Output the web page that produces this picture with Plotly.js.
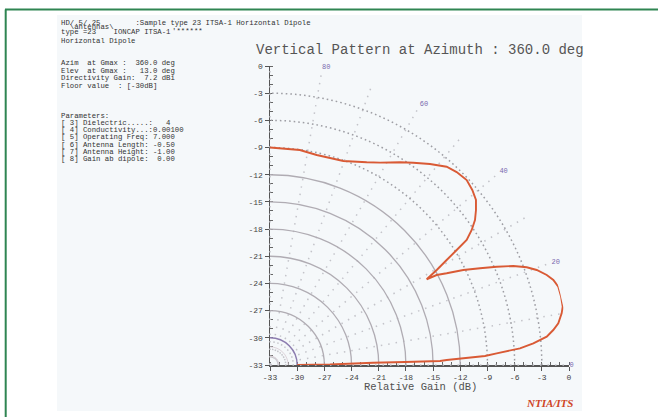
<!DOCTYPE html>
<html><head><meta charset="utf-8">
<script src="https://cdn.plot.ly/plotly-3.0.1.min.js"></script>
<style>html,body{margin:0;padding:0;background:#fff;}#chart{width:658px;height:417px;}</style>
</head><body><div id="chart"></div>
<script>
// ---- data (path order along the pattern) ----
const elevationDeg = [0, 0.48, 1.28, 1.27, 1.35, 1.62, 2.40, 2.95, 3.82, 4.71, 5.84, 7.04, 8.23, 10.05, 11.26, 13.18, 15.19, 16.70, 18.02, 19.61, 20.84, 22.14, 23.44, 24.73, 26.17, 27.43, 28.37, 28.68, 29.68, 30.72, 31.63, 32.44, 33.80, 35.27, 36.96, 38.70, 40.86, 43.24, 45.95, 48.30, 51.48, 54.70, 57.32, 61.46, 64.5, 70.23, 77.46, 82.1, 90];
const gainDb      = [-30, -26.38, -21.63, -18.1, -14.23, -13.49, -9.25, -7.95, -5.35, -3.84, -2.30, -1.50, -0.85, -0.31, -0.06, 0, -0.03, -0.35, -0.88, -1.75, -2.68, -4.01, -5.73, -7.48, -9.23, -11.03, -12.1, -13.29, -11.82, -10.32, -8.80, -7.28, -6.21, -5.29, -4.55, -3.87, -3.48, -3.20, -3.37, -3.69, -4.65, -5.64, -6.42, -7.58, -8.21, -9.07, -9.26, -9.04, -9.0];
const gainTicks  = [-33, -30, -27, -24, -21, -18, -15, -12, -9, -6, -3, 0];
const gainLabels = ['-33', '-30', '-27', '-24', '-21', '-18', '-15', '-12', '-9', '-6', '-3', '0'];
const elevLabelVals = [0, 20, 40, 60, 80];
const elevLabelText = ['0', '20', '40', '60', '80'];
const dottedRings = [-9, -6, -3, 0];
const solidRings  = [-27, -24, -21, -18, -15, -12];
const accentRings = [-30];
const faintRings  = [-32, -31];
const headerLines = ['HD/.5/.25        :Sample type 23 ITSA-1 Horizontal Dipole', '  \\antennas\\', 'type =23    IONCAP ITSA-1', 'Horizontal Dipole'];
const summaryLines = ['Azim  at Gmax :  360.0 deg', 'Elev  at Gmax :   13.0 deg', 'Directivity Gain:  7.2 dBi', 'Floor value  : [-30dB]'];
const paramLines = ['Parameters:', '[ 3] Dielectric.....:   4', '[ 4] Conductivity...:0.00100', '[ 5] Operating Freq: 7.000', '[ 6] Antenna Length: -0.50', '[ 7] Antenna Height: -1.00', '[ 8] Gain ab dipole:  0.00'];
const chartTitle = 'Vertical Pattern at Azimuth : 360.0 deg';
const axisTitle = 'Relative Gain (dB)';
const credit = 'NTIA/ITS';

// ---- layout helpers ----
const W = 658, H = 417;
const px = x => x / W;
const py = y => 1 - y / H;
const dom = {x: [px(270), px(569)], y: [py(365), py(66)]};
const mono = 'Liberation Mono, Courier New, monospace';

function polar(radial, angular) {
  return {
    domain: dom, sector: [0, 90], bgcolor: 'rgba(0,0,0,0)',
    radialaxis: Object.assign({range: [-33, 0], showline: false, ticks: '', showticklabels: false, tickmode: 'array', showgrid: true}, radial),
    angularaxis: Object.assign({rotation: 0, direction: 'counterclockwise', showline: false, ticks: '', showticklabels: false, showgrid: false}, angular)
  };
}

const traces = [
  {type: 'scatter', x: [], y: [], xaxis: 'x', yaxis: 'y', showlegend: false, hoverinfo: 'skip'},
  {type: 'scatterpolar', subplot: 'polar', r: [], theta: [], showlegend: false},
  {type: 'scatterpolar', subplot: 'polar2', r: [], theta: [], showlegend: false},
  {type: 'scatterpolar', subplot: 'polar3', r: [], theta: [], showlegend: false},
  {type: 'scatterpolar', subplot: 'polar4', r: gainDb, theta: elevationDeg, mode: 'lines',
   line: {color: '#d95a35', width: 1.9}, showlegend: false, hoverinfo: 'skip'}
];

const annotations = [];
function textLine(t, x, y, opts) {
  annotations.push(Object.assign({text: t, xref: 'paper', yref: 'paper', x: px(x), y: py(y), xanchor: 'left', yanchor: 'middle', showarrow: false,
    font: {family: mono, size: 7.3, color: '#333'}}, opts || {}));
}
const headerY = [22.5, 27, 32.5, 41];
headerLines.forEach((t, i) => textLine(t, 59, headerY[i]));
textLine("'******", 170, 31);
summaryLines.forEach((t, i) => textLine(t, 59, 63 + i * 7.7));
paramLines.forEach((t, i) => textLine(t, 59, 115.5 + i * 7.3));
annotations.push({text: axisTitle, xref: 'paper', yref: 'paper', x: px(420), y: py(386.5), xanchor: 'center', yanchor: 'middle', showarrow: false,
  font: {family: mono, size: 10.5, color: '#505050'}});
annotations.push({text: '<b><i>' + credit + '</i></b>', xref: 'paper', yref: 'paper', x: px(549), y: py(403), xanchor: 'center', yanchor: 'middle', showarrow: false,
  font: {family: 'Liberation Serif, Times New Roman, serif', size: 11, color: '#cf4526'}});

const axisCommon = {
  range: [-33, 0], tickmode: 'array', tickvals: gainTicks, ticktext: gainLabels,
  ticks: 'outside', ticklen: 4, tickwidth: 1, tickcolor: '#555',
  showline: true, linecolor: '#555', linewidth: 1.5, showgrid: false, zeroline: false,
  tickfont: {family: mono, size: 8, color: '#444'}, fixedrange: true,
  minor: {tickmode: 'linear', tick0: 0, dtick: 1, ticks: 'inside', ticklen: 3, tickcolor: '#666', showgrid: false}
};

const layout = {
  width: W, height: H, margin: {l: 0, r: 0, t: 0, b: 0},
  paper_bgcolor: '#ffffff', plot_bgcolor: 'rgba(0,0,0,0)', showlegend: false,
  title: {text: chartTitle, xref: 'paper', yref: 'paper', x: px(256), y: py(49), xanchor: 'left', yanchor: 'middle',
    font: {family: mono, size: 14, color: '#555'}},
  xaxis: Object.assign({}, axisCommon, {domain: dom.x, anchor: 'y', ticklabelstandoff: 0}),
  yaxis: Object.assign({}, axisCommon, {domain: dom.y, anchor: 'x', side: 'left'}),
  polar: polar({tickvals: dottedRings, gridcolor: '#9e9ea4', griddash: '1.6px,3px', gridwidth: 1.5},
               {tickmode: 'linear', tick0: 0, dtick: 10, showgrid: true, gridcolor: '#c4c4ca', griddash: '1.5px,6px', gridwidth: 1.5}),
  polar2: polar({tickvals: solidRings, gridcolor: '#b0acb3', gridwidth: 1.3},
                {tickmode: 'array', tickvals: elevLabelVals, ticktext: elevLabelText, showticklabels: true,
                 tickfont: {family: mono, size: 7, color: '#7a6aae'}}),
  polar3: polar({tickvals: accentRings, gridcolor: '#8c7caf', gridwidth: 1.5}, {}),
  polar4: polar({tickvals: faintRings, gridcolor: '#ddd3da', gridwidth: 1}, {}),
  shapes: [
    {type: 'rect', xref: 'paper', yref: 'paper', x0: px(57), x1: px(582), y0: py(411), y1: py(15), fillcolor: '#f5f8fa', line: {width: 0}, layer: 'below'},
    {type: 'line', xref: 'paper', yref: 'paper', x0: px(5), x1: 1, y0: py(9.5), y1: py(9.5), line: {color: '#2f8552', width: 2}},
    {type: 'line', xref: 'paper', yref: 'paper', x0: px(5.7), x1: px(5.7), y0: py(9.5), y1: 0, line: {color: '#2f8552', width: 2}}
  ],
  annotations: annotations
};

Plotly.newPlot('chart', traces, layout, {staticPlot: true, displayModeBar: false});
</script></body></html>
